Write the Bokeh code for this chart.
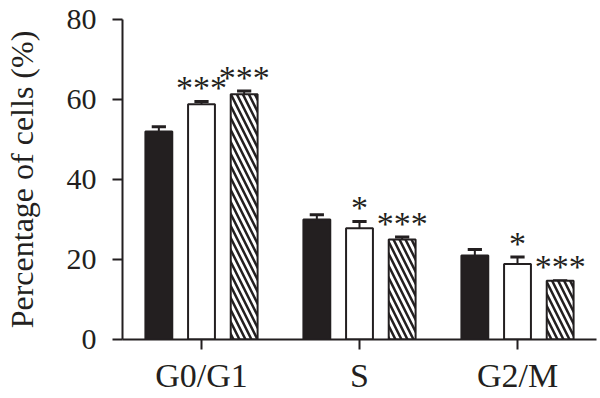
from bokeh.plotting import figure
from bokeh.models import ColumnDataSource, FactorRange
from bokeh.transform import dodge
from bokeh.core.properties import value
from bokeh.embed import file_html
from bokeh.resources import INLINE

phases = ["G0/G1", "S", "G2/M"]
control = [52.0, 30.0, 21.0]
control_err = [1.2, 1.2, 1.5]
treat_a = [58.8, 27.8, 18.9]
treat_a_err = [0.7, 1.7, 1.7]
treat_b = [61.3, 25.0, 14.7]
treat_b_err = [0.8, 0.6, 0.0]
stars_a = ["***", "*", "*"]
stars_b = ["***", "***", "***"]
y_ticks = [0, 20, 40, 60, 80]

INK = "#231f20"
FONT = "Liberation Serif"

p = figure(x_range=FactorRange(*phases, range_padding=0), y_range=(0, 80),
           width=600, height=398, output_backend="svg", toolbar_location=None,
           min_border_left=120, min_border_top=19, min_border_bottom=59,
           min_border_right=4)

p.outline_line_color = None
p.xgrid.grid_line_color = None
p.ygrid.grid_line_color = None
p.background_fill_color = "white"

series = [
    (control, control_err, -0.27, dict(fill_color=INK), None),
    (treat_a, treat_a_err, 0.0, dict(fill_color="white"), stars_a),
    (treat_b, treat_b_err, 0.27, dict(fill_color="white", hatch_pattern="left_diagonal_line",
                                       hatch_color=INK, hatch_scale=12, hatch_weight=2.5), stars_b),
]

bw = 0.17
cw = 0.09
for vals, errs, off, style, stars in series:
    tops = [v + e for v, e in zip(vals, errs)]
    data = dict(cat=phases, val=vals, top=tops)
    if stars is not None:
        data["star"] = stars
        data["star_y"] = [t + 3.5 for t in tops]
    src = ColumnDataSource(data)
    p.segment(x0=dodge("cat", off, range=p.x_range), y0="val",
              x1=dodge("cat", off, range=p.x_range), y1="top",
              source=src, line_color=INK, line_width=2)
    p.segment(x0=dodge("cat", off - cw / 2, range=p.x_range), y0="top",
              x1=dodge("cat", off + cw / 2, range=p.x_range), y1="top",
              source=src, line_color=INK, line_width=3)
    p.vbar(x=dodge("cat", off, range=p.x_range), top="val", bottom=0, width=bw,
           source=src, line_color=INK, line_width=2, **style)
    if stars is not None:
        p.text(x=dodge("cat", off, range=p.x_range), y="star_y", text="star", source=src,
               text_font=value(FONT), text_font_size="34px", text_align="center",
               text_baseline="alphabetic", text_color=INK)

for ax in (p.xaxis[0], p.yaxis[0]):
    ax.axis_line_color = INK
    ax.axis_line_width = 2
    ax.major_tick_line_color = INK
    ax.major_tick_line_width = 2
    ax.major_tick_out = 10
    ax.major_tick_in = 0
    ax.minor_tick_line_color = None
    ax.major_label_text_font = FONT
    ax.major_label_text_color = INK

p.yaxis.ticker = y_ticks
p.yaxis.major_label_text_font_size = "30px"
p.yaxis.major_label_standoff = 16
p.yaxis.axis_label = "Percentage of cells (%)"
p.yaxis.axis_label_text_font = FONT
p.yaxis.axis_label_text_font_size = "32px"
p.yaxis.axis_label_text_font_style = "normal"
p.yaxis.axis_label_text_color = INK
p.yaxis.axis_label_standoff = 24

p.xaxis.major_label_text_font_size = "34px"
p.xaxis.major_label_standoff = 7

open("out.html", "w").write(file_html(p, INLINE))
